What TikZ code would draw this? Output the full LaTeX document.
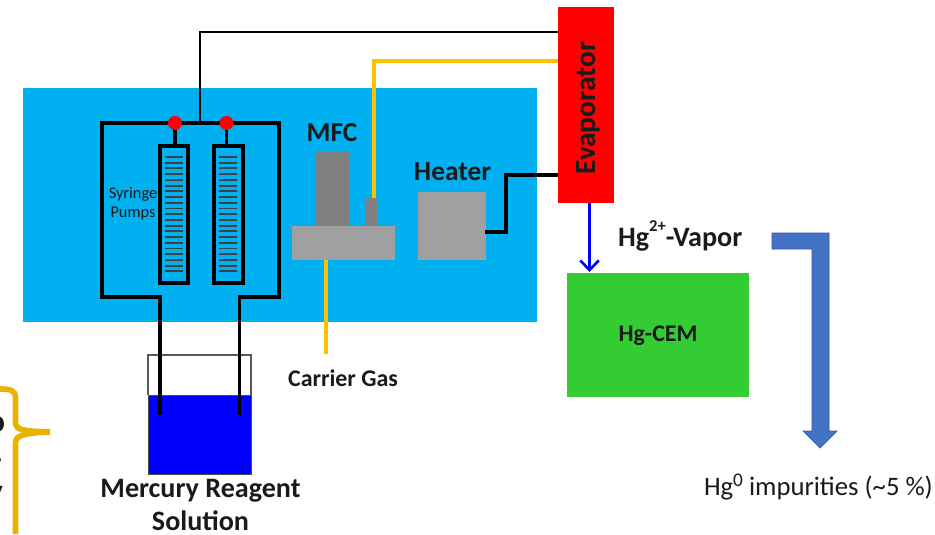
\documentclass[tikz,border=0pt]{standalone}
\usepackage{fontspec}
\setmainfont{Carlito}
\usetikzlibrary{arrows.meta}
\definecolor{bathblue}{HTML}{00B0F0}
\definecolor{mfcdark}{HTML}{808080}
\definecolor{mfclight}{HTML}{A0A0A0}
\definecolor{gasyellow}{HTML}{FFC000}
\definecolor{cemgreen}{HTML}{33CC33}
\definecolor{bracegold}{HTML}{EAB200}
\definecolor{flowblue}{HTML}{4472C4}
\definecolor{labelink}{HTML}{1A1A1A}
\newcommand{\upmark}[2][0.55em]{\raisebox{#1}{\fontsize{9.5}{9.5}\selectfont #2}}
\tikzset{
  tag/.style={inner sep=0pt,outer sep=0pt,text=labelink,font=\fontsize{#1}{#1}\selectfont},
  boldtag/.style={inner sep=0pt,outer sep=0pt,text=labelink,font=\fontsize{#1}{#1}\selectfont\bfseries},
  pipe/.style={line width=1.9pt,black},
  gasline/.style={line width=2.3pt,gasyellow},
  tick/.style={black!75,line width=1.1pt}
}
\begin{document}
\begin{tikzpicture}[x=0.02cm,y=-0.02cm]
\useasboundingbox (0,0) rectangle (935,534);

% bath
\fill[bathblue] (23,88) rectangle (537,322);

% reagent beaker
\fill[blue] (148,395) rectangle (251,474);
\draw[gray!70!black,line width=0.9pt] (148,395) -- (148,355) -- (251,355) -- (251,395);
\draw[black!70,line width=0.5pt] (148,395) rectangle (251,474);

% pipes round the pumps
\draw[pipe] (160,415) -- (160,297) -- (102,297) -- (102,123) -- (279,123) -- (279,297) -- (239.500,297) -- (239.500,415);
\draw[pipe,line width=1.6pt] (200,123) -- (200,32) -- (559,32);
\draw[pipe] (175,123) -- (175,146);
\draw[pipe] (226.500,123) -- (226.500,146);

% syringes
\draw[pipe] (160,146) rectangle (188,283);
\draw[pipe] (214,146) rectangle (243,283);
\foreach \i in {0,...,20} {
  \draw[tick] (165,{157+\i*5.72}) -- (183,{157+\i*5.72});
  \draw[tick] (219,{157+\i*5.72}) -- (237,{157+\i*5.72});
}
\fill[red] (175,123) circle (4pt);
\fill[red] (226.500,123) circle (4pt);
\node[tag=9.3,align=center] (pumps) at (133,204) {Syringe\\[1.4pt]Pumps};

% MFC
\draw[gasline] (326,255) -- (326,354);
\draw[gasline] (374,200) -- (374,61) -- (559,61);
\fill[mfcdark] (315,152) rectangle (349,229);
\fill[mfcdark] (366,198) rectangle (377,229);
\fill[mfclight] (292,226) rectangle (395,260);
\node[boldtag=15.6] (mfc) at (332,133) {MFC};

% heater
\fill[mfclight] (418,192) rectangle (486,260);
\draw[line width=2.7pt,black] (485,232) -- (506,232) -- (506,175) -- (530,175);
\draw[line width=1.9pt,black] (530,175) -- (559,175);
\node[boldtag=15.6] (heater) at (452.500,172) {Heater};

% evaporator
\node[fill=red,inner sep=0pt,outer sep=0pt,minimum width=1.12cm,minimum height=3.92cm] (evap) at (586,105) {};
\node[boldtag=16.7,rotate=90] (evaplabel) at (588,108) {Evaporator};

% cem
\node[fill=cemgreen,inner sep=0pt,outer sep=0pt,minimum width=3.66cm,minimum height=2.5cm] (cem) at (658,335) {};
\node[boldtag=13.6] (cemlabel) at (658,336) {Hg-CEM};
\coordinate (cemtop) at (589.500,272);
\draw[-{Straight Barb[length=5.5pt,width=10.5pt]},blue,line width=1.5pt] (evap.south -| cemtop) -- (cemtop);
\node[boldtag=16,anchor=west] (vapor) at (618,236) {Hg\upmark{2+}-Vapor};

% flow arrow
\filldraw[fill=flowblue,draw=flowblue!80!black,line width=0.4pt] (772,233) -- (829,233) -- (829,431) -- (837,431) -- (820,448) -- (803,431) -- (812,431) -- (812,249) -- (772,249) -- cycle;
\node[tag=15.2,anchor=west] (impur) at (704,487) {Hg\upmark[0.33em]{\fontsize{11}{11}\selectfont 0} impurities (\textasciitilde5 \%)};

% labels
\node[boldtag=13.6] (carrier) at (343,378) {Carrier Gas};
\node[boldtag=16,align=center] (reagent) at (200.500,505) {Mercury Reagent\\[2.7pt]Solution};

% cut off part of the left margin
\node[boldtag=19,anchor=east] (cuta) at (5,424) {o};
\node[boldtag=19,anchor=east] (cutb) at (3,460) {.};
\node[boldtag=19,anchor=east] (cutc) at (3,497) {y};
\draw[bracegold,line width=3.2pt] (0,389) .. controls (10,389) and (15.500,390) .. (15.500,398) -- (15.500,422) .. controls (15.500,430) and (22,431) .. (50,432);
\draw[bracegold,line width=3.2pt] (50,432) .. controls (22,433) and (15.500,436) .. (15.500,443) -- (15.500,534);
\end{tikzpicture}
\end{document}
